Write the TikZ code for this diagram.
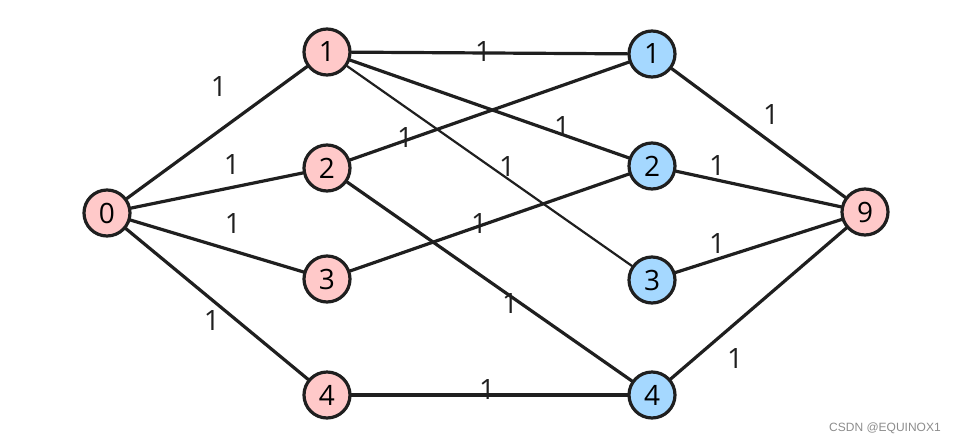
\documentclass[tikz,border=0pt]{standalone}
\usepackage{fontspec}
\setmainfont{Open Sans}
\newfontfamily\wmfont{Liberation Sans}
\begin{document}
\begin{tikzpicture}[x=1pt,y=-1pt,
  vtx/.style={circle,draw=black!88,line width=3.2pt,minimum size=46pt,inner sep=0pt,font=\fontsize{28}{28}\selectfont},
  lft/.style={vtx,fill=pinkc},
  rgt/.style={vtx,fill=bluec},
  edge/.style={draw=black!88,line width=3.2pt,line cap=round},
  thinedge/.style={edge,line width=2.2pt},
  lab/.style={inner sep=0pt,font=\fontsize{28}{28}\selectfont,text=black!88}]
\definecolor{pinkc}{HTML}{FFC9C9}
\definecolor{bluec}{HTML}{A5D8FF}
\useasboundingbox (0,0) rectangle (969,445);
\node[lft] (s) at (107,213) {0};
\node[lft] (a1) at (327,52) {1};
\node[lft] (a2) at (327,168) {2};
\node[lft] (a3) at (327,279) {3};
\node[lft] (a4) at (327,395) {4};
\node[rgt] (b1) at (652,54) {1};
\node[rgt] (b2) at (652,166) {2};
\node[rgt] (b3) at (652,280) {3};
\node[rgt] (b4) at (652,395) {4};
\node[lft] (t) at (865,212) {9};
\draw[edge] (s) -- (a1);
\draw[edge] (s) -- (a2);
\draw[edge] (s) -- (a3);
\draw[edge] (s) -- (a4);
\draw[edge] (a1) -- (b1);
\draw[edge] (a1) -- (b2);
\draw[thinedge] (a1) -- (b3);
\draw[edge] (a2) -- (b1);
\draw[edge] (a2) -- (b4);
\draw[edge] (a3) -- (b2);
\draw[edge] (a4) -- (b4);
\draw[edge] (b1) -- (t);
\draw[edge] (b2) -- (t);
\draw[edge] (b3) -- (t);
\draw[edge] (b4) -- (t);
\node[lab] (l1) at (219,87) {1};
\node[lab] (l2) at (232,165) {1};
\node[lab] (l3) at (233,223) {1};
\node[lab] (l4) at (212,320) {1};
\node[lab] (l5) at (483,52) {1};
\node[lab] (l6) at (405,138) {1};
\node[lab] (l7) at (562,127) {1};
\node[lab] (l8) at (507,167) {1};
\node[lab] (l9) at (479,223) {1};
\node[lab] (l10) at (510,303) {1};
\node[lab] (l11) at (487,389) {1};
\node[lab] (l12) at (771,115) {1};
\node[lab] (l13) at (717,166) {1};
\node[lab] (l14) at (717,243) {1};
\node[lab] (l15) at (735,358) {1};
\node[text=black!45,font=\wmfont\fontsize{12}{12}\selectfont] (wm) at (885,428) {CSDN @EQUINOX1};
\end{tikzpicture}
\end{document}
